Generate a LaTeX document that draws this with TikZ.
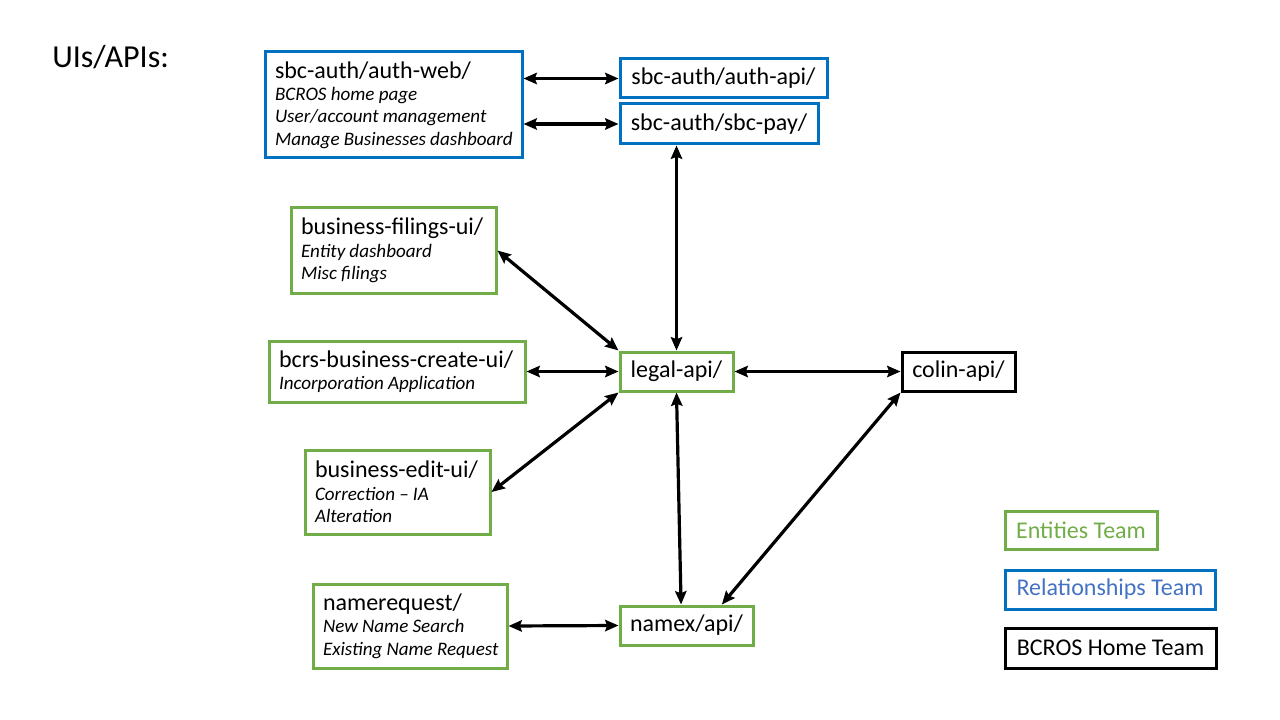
\documentclass[tikz,border=0pt]{standalone}
\usepackage{fontspec}
\setmainfont{Carlito}
\usetikzlibrary{arrows.meta,calc}
\newdimen\pu \pu=0.75pt
\definecolor{entgreen}{HTML}{70AD47}
\definecolor{relblue}{HTML}{0070C0}
\definecolor{reltext}{HTML}{4472C4}
\newcommand{\subl}[1]{{\fontsize{14.3}{16.8}\selectfont\itshape\spaceskip=0.22em\mbox{#1}}}
\tikzset{
  box/.style={draw, line width=2.25pt, rectangle, inner xsep=10\pu, inner ysep=0pt,
    font=\fontsize{18}{16.8}\selectfont},
  ent/.style={box, draw=entgreen},
  rel/.style={box, draw=relblue},
  home/.style={box, draw=black},
  multi/.style={align=left},
  conn/.style={line width=2.4pt, {Stealth[length=10pt,width=8.5pt,inset=1.5pt]}-{Stealth[length=10pt,width=8.5pt,inset=1.5pt]}},
}
\begin{document}
\begin{tikzpicture}[x=0.75pt,y=-0.75pt]
\useasboundingbox (0,0) rectangle (1280,720);
\node[anchor=west, inner sep=0pt, font=\fontsize{24}{28}\selectfont] (title) at (52,57) {UIs/APIs:};

\node[rel, multi, minimum width=257\pu, minimum height=106\pu, text width=237\pu] (authweb) at (393.5,105)
  {sbc-auth/auth-web/\\\subl{BCROS home page}\\\subl{User/account management}\\\subl{Manage Businesses dashboard}};
\node[rel, minimum width=207\pu, minimum height=39\pu] (authapi) at (723.5,78.5) {sbc-auth/auth-api/};
\node[rel, minimum width=198\pu, minimum height=40\pu] (sbcpay) at (719,124) {sbc-auth/sbc-pay/};

\node[ent, multi, minimum width=205\pu, minimum height=85\pu, text width=185\pu] (filings) at (393.5,250.5)
  {business-filings-ui/\\\subl{Entity dashboard}\\\subl{Misc filings}};
\node[ent, multi, minimum width=256\pu, minimum height=61\pu, text width=236\pu] (create) at (397,371.5)
  {bcrs-business-create-ui/\\\subl{Incorporation Application}};
\node[ent, minimum width=113\pu, minimum height=39\pu] (legal) at (676.5,371.5) {legal-api/};
\node[home, minimum width=113\pu, minimum height=39\pu] (colin) at (958.5,371.5) {colin-api/};
\node[ent, multi, minimum width=185\pu, minimum height=84\pu, text width=165\pu] (edit) at (397.5,492)
  {business-edit-ui/\\\subl{Correction – IA}\\\subl{Alteration}};
\node[ent, multi, minimum width=194\pu, minimum height=84\pu, text width=174\pu] (namereq) at (410,626)
  {namerequest/\\\subl{New Name Search}\\\subl{Existing Name Request}};
\node[ent, minimum width=133\pu, minimum height=39\pu] (namex) at (686.5,625.5) {namex/api/};

\node[ent, minimum width=152\pu, minimum height=38\pu, text=entgreen] (lgent) at (1081,530) {Entities Team};
\node[rel, minimum width=210\pu, minimum height=39\pu, text=reltext] (lgrel) at (1110,589.5) {Relationships Team};
\node[home, minimum width=211\pu, minimum height=40\pu] (lghome) at (1110.5,648) {BCROS Home Team};

\coordinate (nxa) at ($(namex.north west)!0.46!(namex.north east)$);
\coordinate (nxb) at ($(namex.north west)!0.76!(namex.north east)$);

\draw[conn] (authweb.east |- authapi.west) -- (authapi.west);
\draw[conn] (authweb.east |- sbcpay.west) -- (sbcpay.west);
\draw[conn] (legal.north |- sbcpay.south) -- (legal.north);
\draw[conn] (filings.east) -- (legal.north west);
\draw[conn] (create.east) -- (legal.west);
\draw[conn] (edit.east) -- (legal.south west);
\draw[conn] (legal.east) -- (colin.west);
\draw[conn] (legal.south) -- (nxa);
\draw[conn] (colin.south west) -- (nxb);
\draw[conn] (namereq.east) -- (namex.west);
\end{tikzpicture}
\end{document}
